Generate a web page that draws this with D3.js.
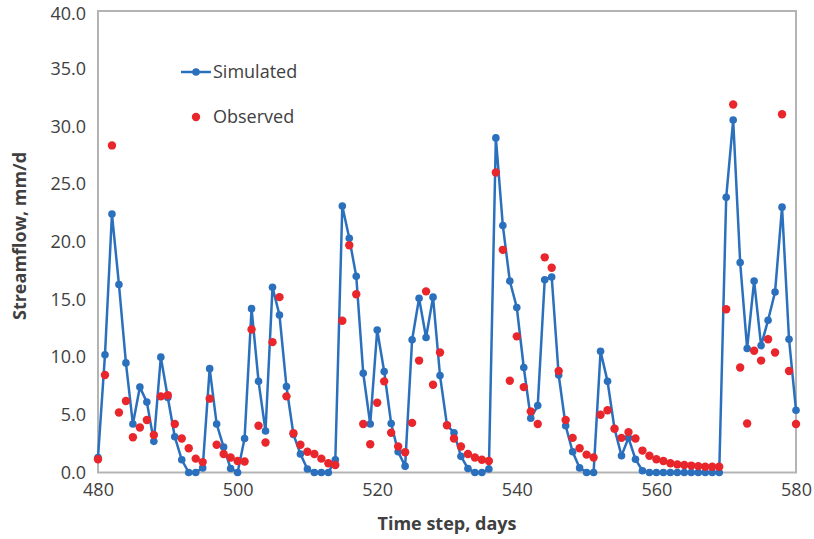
<!DOCTYPE html>
<meta charset="utf-8">
<script src="https://d3js.org/d3.v7.min.js"></script>
<style>
  body { margin: 0; background: #fff; }
  text { font-family: "Open Sans", Lato, sans-serif; }
</style>
<div id="chart"></div>
<script>
    // days 480..580
    var days = d3.range(480, 581);

    var simulated = [
        1.3, 10.2, 22.4, 16.3, 9.5, 4.2, 7.4, 6.1, 2.7, 10.0,
        6.5, 3.1, 1.1, 0.0, 0.0, 0.4, 9.0, 4.2, 2.2, 0.35,
        0.0, 2.95, 14.2, 7.9, 3.6, 16.05, 13.65, 7.45, 3.3, 1.6,
        0.3, 0.0, 0.0, 0.0, 1.1, 23.1, 20.3, 17.0, 8.6, 4.2,
        12.35, 8.75, 4.25, 1.8, 0.55, 11.5, 15.1, 11.7, 15.2, 8.4,
        4.1, 3.45, 1.4, 0.35, 0.0, 0.0, 0.3, 29.0, 21.4, 16.6,
        14.3, 9.1, 4.7, 5.8, 16.7, 16.95, 8.45, 4.05, 1.8, 0.4,
        0.0, 0.0, 10.5, 7.9, 3.8, 1.45, 3.0, 1.15, 0.15, 0.0,
        0.0, 0.0, 0.0, 0.0, 0.0, 0.0, 0.0, 0.0, 0.0, 0.0,
        23.85, 30.55, 18.2, 10.75, 16.6, 11.0, 13.2, 15.65, 23.0, 11.55,
        5.4
    ];

    var observed = [
        1.15, 8.45, 28.35, 5.2, 6.2, 3.05, 3.9, 4.55, 3.25, 6.6,
        6.7, 4.2, 2.95, 2.1, 1.2, 0.9, 6.4, 2.4, 1.6, 1.3,
        1.0, 0.95, 12.4, 4.05, 2.6, 11.3, 15.2, 6.6, 3.4, 2.4,
        1.8, 1.6, 1.2, 0.8, 0.65, 13.15, 19.7, 15.45, 4.2, 2.45,
        6.05, 7.9, 3.45, 2.25, 1.75, 4.3, 9.7, 15.7, 7.6, 10.4,
        4.1, 2.95, 2.25, 1.6, 1.3, 1.1, 1.0, 26.0, 19.3, 7.95,
        11.8, 7.4, 5.3, 4.2, 18.65, 17.75, 8.8, 4.55, 3.0, 2.1,
        1.55, 1.3, 5.0, 5.4, 3.8, 3.0, 3.5, 2.95, 1.9, 1.45,
        1.15, 1.0, 0.8, 0.7, 0.65, 0.6, 0.55, 0.5, 0.5, 0.5,
        14.15, 31.9, 9.1, 4.25, 10.55, 9.7, 11.55, 10.4, 31.05, 8.8,
        4.2
    ];

    var xTicks = [480, 500, 520, 540, 560, 580];
    var yTicks = [0, 5, 10, 15, 20, 25, 30, 35, 40];

    var width = 814, height = 539;
    var margin = {top: 11, right: 18, bottom: 67, left: 98};

    var blue = "#2b70bd";
    var red = "#e8262b";
    var grey = "#404040";

    var x = d3.scaleLinear()
        .domain([480, 580])
        .range([margin.left, width - margin.right]);

    var y = d3.scaleLinear()
        .domain([0, 40])
        .range([height - margin.bottom + 0.5, margin.top]);

    var svg = d3.select("#chart").append("svg")
        .attr("width", width)
        .attr("height", height);

    // plot frame
    svg.append("rect")
        .attr("x", x(480))
        .attr("y", y(40))
        .attr("width", x(580) - x(480))
        .attr("height", y(0) - y(40))
        .attr("fill", "none")
        .attr("stroke", "#b4b4b4")
        .attr("stroke-width", 2);

    var xAxis = svg.append("g")
        .attr("transform", "translate(0," + y(0) + ")")
        .call(d3.axisBottom(x).tickValues(xTicks).tickSize(0).tickPadding(11));
    xAxis.select(".domain").remove();
    xAxis.selectAll("text")
        .attr("font-size", "18px")
        .attr("fill", grey)
        .style("font-family", "'Open Sans', sans-serif");

    var yAxis = svg.append("g")
        .attr("transform", "translate(" + x(480) + ",0)")
        .call(d3.axisLeft(y).tickValues(yTicks).tickSize(0).tickPadding(12)
            .tickFormat(d3.format(".1f")));
    yAxis.select(".domain").remove();
    yAxis.selectAll("text")
        .attr("font-size", "18px")
        .attr("fill", grey)
        .style("font-family", "'Open Sans', sans-serif");
    // keep the top label inside the page
    yAxis.selectAll(".tick text")
        .filter(function(d) { return d === 40; })
        .attr("dy", "0.45em");

    // axis titles
    svg.append("text")
        .attr("x", 447)
        .attr("y", 530)
        .attr("text-anchor", "middle")
        .attr("font-size", "18px")
        .attr("font-weight", "bold")
        .attr("fill", grey)
        .text("Time step, days");

    svg.append("text")
        .attr("transform", "translate(26,236) rotate(-90)")
        .attr("text-anchor", "middle")
        .attr("font-size", "18px")
        .attr("font-weight", "bold")
        .attr("fill", grey)
        .text("Streamflow, mm/d");

    // simulated series
    var line = d3.line()
        .x(function(d, i) { return x(days[i]); })
        .y(function(d) { return y(d); });

    svg.append("path")
        .datum(simulated)
        .attr("fill", "none")
        .attr("stroke", blue)
        .attr("stroke-width", 2.5)
        .attr("d", line);

    svg.selectAll(null)
        .data(simulated)
        .enter()
        .append("circle")
        .attr("cx", function(d, i) { return x(days[i]); })
        .attr("cy", function(d) { return y(d); })
        .attr("r", 3.8)
        .attr("fill", blue);

    // observed series
    svg.selectAll(null)
        .data(observed)
        .enter()
        .append("circle")
        .attr("cx", function(d, i) { return x(days[i]); })
        .attr("cy", function(d) { return y(d); })
        .attr("r", 4.2)
        .attr("fill", red);

    // legend
    var legend = svg.append("g").attr("transform", "translate(181,72)");
    legend.append("line")
        .attr("x1", 0).attr("x2", 30)
        .attr("y1", 0).attr("y2", 0)
        .attr("stroke", blue)
        .attr("stroke-width", 2.5);
    legend.append("circle")
        .attr("cx", 15).attr("cy", 0).attr("r", 3.8)
        .attr("fill", blue);
    legend.append("text")
        .attr("x", 32).attr("y", 0)
        .attr("dy", "0.35em")
        .attr("font-size", "18px")
        .attr("fill", grey)
        .text("Simulated");

    legend.append("circle")
        .attr("cx", 15).attr("cy", 45).attr("r", 4.2)
        .attr("fill", red);
    legend.append("text")
        .attr("x", 32).attr("y", 45)
        .attr("dy", "0.35em")
        .attr("font-size", "18px")
        .attr("fill", grey)
        .text("Observed");
</script>
